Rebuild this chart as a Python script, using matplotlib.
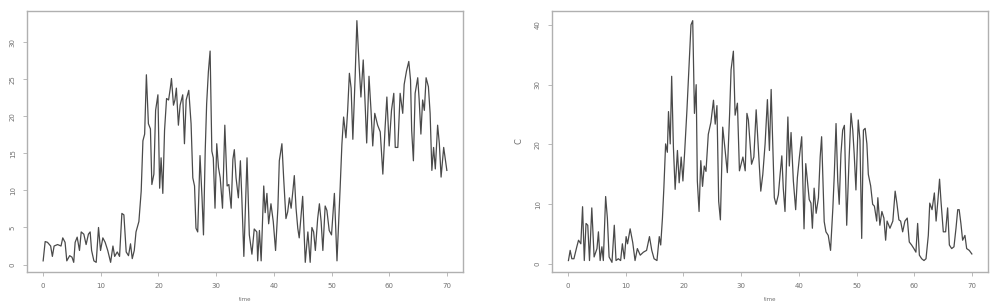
import matplotlib
matplotlib.use("Agg")
import matplotlib.pyplot as plt

# Left panel series (time, value)
time_a = [0, 0.35, 0.75, 1.3, 1.6, 1.9, 2.5, 3.1, 3.4, 3.8, 4.1, 4.6, 5.0, 5.3, 5.55, 5.9, 6.3, 6.6,
          7.05, 7.45, 7.85, 8.15, 8.4, 8.8, 9.2, 9.6, 9.95, 10.35, 10.75, 11.2, 11.7, 12.1, 12.4, 12.85,
          13.25, 13.65, 14.0, 14.4, 14.8, 15.15, 15.45, 15.8, 16.1, 16.6, 17.0, 17.3, 17.6, 17.9, 18.25,
          18.6, 18.85, 19.2, 19.5, 19.9, 20.2, 20.45, 20.75, 21.05, 21.4, 21.75, 22.05, 22.25, 22.6,
          22.85, 23.1, 23.45, 23.75, 24.2, 24.5, 24.8, 25.25, 25.65, 25.95, 26.25, 26.5, 26.8, 27.2,
          27.55, 27.8, 28.1, 28.35, 28.65, 28.95, 29.25, 29.5, 29.8, 30.1, 30.4, 30.7, 31.1, 31.5,
          31.9, 32.2, 32.6, 32.9, 33.15, 33.45, 33.85, 34.2, 34.45, 34.8, 35.35, 35.75, 36.2, 36.6,
          37.05, 37.2, 37.5, 37.8, 38.25, 38.5, 38.8, 39.1, 39.5, 39.9, 40.3, 40.7, 40.95, 41.4, 41.7,
          42.1, 42.4, 42.7, 43.0, 43.3, 43.55, 43.85, 44.15, 44.4, 45.0, 45.45, 45.9, 46.3, 46.6, 46.9,
          47.2, 47.6, 47.9, 48.2, 48.5, 48.9, 49.2, 49.6, 50.0, 50.5, 50.95, 51.5, 51.8, 52.1, 52.5,
          52.8, 53.1, 53.4, 53.7, 54.1, 54.4, 54.8, 55.1, 55.5, 55.8, 56.1, 56.5, 56.85, 57.15, 57.5,
          58.0, 58.45, 58.9, 59.3, 59.6, 60.0, 60.4, 60.8, 61.05, 61.5, 61.9, 62.35, 62.6, 63.0, 63.4,
          63.7, 63.9, 64.2, 64.5, 64.95, 65.2, 65.5, 65.8, 66.1, 66.4, 66.8, 67.1, 67.4, 67.7, 68.0,
          68.4, 68.7, 69.0, 69.45, 69.7, 70.0]
value_a = [0.5, 3.1, 3.0, 2.5, 1.1, 2.5, 2.7, 2.5, 3.6, 3.0, 0.5, 1.2, 1.0, 0.3, 3.0, 3.7, 1.9, 4.4,
           4.1, 2.7, 4.1, 4.4, 1.9, 0.5, 0.3, 5.0, 1.9, 3.6, 3.0, 1.9, 0.3, 2.5, 1.1, 1.7,
           1.1, 6.9, 6.7, 1.7, 1.2, 2.8, 0.8, 1.9, 4.4, 5.8, 9.9, 16.7, 17.6, 25.6, 19.0,
           18.3, 10.8, 12.2, 20.8, 22.9, 10.3, 14.4, 9.6, 18.1, 22.4, 22.2, 23.8, 25.1, 21.5,
           22.2, 23.8, 18.8, 21.5, 22.9, 16.3, 22.2, 23.5, 19.0, 11.7, 10.6, 4.9, 4.4, 14.7,
           9.0, 4.0, 15.3, 21.7, 26.0, 28.8, 15.3, 14.4, 7.6, 16.3, 13.1, 11.7, 7.6, 18.8,
           10.6, 10.8, 7.6, 14.2, 15.5, 11.7, 9.0, 14.0, 9.0, 1.1, 14.4, 4.0, 1.4, 4.8,
           4.4, 0.5, 4.6, 0.5, 10.6, 7.0, 9.6, 5.5, 8.2, 5.8, 1.9, 7.6, 14.0, 16.3, 11.7,
           6.2, 7.1, 9.0, 7.6, 9.9, 12.0, 7.6, 4.9, 3.6, 9.2, 0.3, 4.4, 0.3, 5.0, 4.4,
           1.9, 6.2, 8.2, 5.8, 1.9, 7.9, 7.3, 4.6, 4.0, 9.6, 0.5, 10.4, 16.2, 19.9, 17.1,
           20.8, 25.8, 23.8, 16.9, 25.4, 32.9, 26.7, 22.6, 27.6, 22.2, 16.4, 25.4, 20.8, 16.0, 20.4,
           18.8, 17.9, 12.2, 18.6, 22.6, 16.0, 20.8, 23.1, 15.8, 15.8, 23.1, 20.4, 24.3, 26.1, 27.4,
           24.9, 18.1, 14.0, 23.1, 25.2, 22.2, 17.6, 22.2, 20.8, 25.2, 24.0, 20.4, 12.7, 15.8, 12.9,
           18.8, 16.3, 11.8, 15.8, 14.4, 12.7]

# Right panel series (time, C)
time_c = [0.05, 0.35, 0.64, 1.0, 1.5, 1.8, 2.2, 2.5, 2.8, 3.1, 3.4, 3.7, 4.1, 4.5, 5.0, 5.25, 5.55,
          5.85, 6.1, 6.5, 6.8, 7.1, 7.6, 8.0, 8.3, 8.7, 9.1, 9.4, 9.75, 10.05, 10.3, 10.75, 11.2,
          11.6, 12.0, 12.5, 13.05, 13.6, 14.1, 14.5, 14.9, 15.4, 15.8, 16.05, 16.35, 16.6, 16.9,
          17.2, 17.4, 17.7, 17.95, 18.25, 18.55, 18.95, 19.25, 19.6, 19.9, 20.2, 20.6, 21.0, 21.3,
          21.6, 21.9, 22.2, 22.4, 22.7, 23.0, 23.3, 23.6, 23.9, 24.3, 24.75, 25.2, 25.5, 25.8, 26.1,
          26.4, 26.8, 27.2, 27.6, 28.0, 28.25, 28.65, 28.95, 29.35, 29.7, 30.3, 30.7, 31.0, 31.25,
          31.5, 31.8, 32.2, 32.6, 33.0, 33.4, 33.75, 34.15, 34.55, 34.9, 35.2, 35.5, 35.75, 36.05,
          36.45, 36.75, 37.05, 37.3, 37.6, 38.1, 38.35, 38.65, 39.05, 39.45, 39.75, 40.1, 40.5,
          40.9, 41.2, 41.55, 41.8, 42.1, 42.35, 42.65, 43.0, 43.4, 43.7, 43.95, 44.4, 44.7, 45.1,
          45.5, 45.9, 46.15, 46.45, 46.75, 47.0, 47.3, 47.6, 47.9, 48.3, 48.7, 49.05, 49.35, 49.6,
          49.9, 50.3, 50.6, 50.9, 51.2, 51.5, 51.8, 52.05, 52.45, 52.8, 53.1, 53.5, 53.7, 54.05,
          54.4, 54.75, 55.05, 55.3, 55.8, 56.3, 56.7, 57.0, 57.35, 57.65, 58.0, 58.4, 58.8, 59.15,
          59.55, 59.95, 60.3, 60.6, 60.9, 61.3, 61.7, 62.05, 62.45, 62.7, 63.1, 63.5, 63.8, 64.1,
          64.4, 64.65, 65.05, 65.45, 65.8, 66.1, 66.5, 66.9, 67.25, 67.55, 67.8, 68.1, 68.4, 68.8,
          69.1, 69.55, 70.0]
value_c = [0.6, 2.3, 0.9, 0.9, 2.9, 4.0, 3.4, 9.6, 0.6, 6.8, 6.5, 0.6, 9.4, 1.2, 2.6, 5.4, 0.6,
           2.9, 0.6, 11.3, 7.7, 1.2, 0.3, 6.5, 0.6, 0.9, 0.6, 3.4, 0.9, 4.6, 3.4, 5.9, 3.6,
           0.6, 2.6, 1.5, 2.0, 2.3, 4.6, 2.3, 0.9, 0.6, 4.6, 3.2, 7.7, 12.8, 20.1,
           18.7, 25.5, 20.1, 31.4, 19.6, 12.5, 19.0, 13.6, 17.9, 13.9, 18.7, 25.8, 34.0, 40.0,
           40.7, 25.2, 30.0, 13.9, 8.8, 17.3, 13.0, 16.4, 15.5, 21.7, 23.7, 27.4, 23.4, 26.5, 10.5,
           7.4, 22.9, 19.2, 15.3, 25.2, 32.5, 35.6, 24.9, 26.9, 15.6, 17.9, 15.6, 25.2, 24.1,
           20.7, 16.7, 17.9, 25.8, 19.0, 12.2, 15.0, 20.1, 27.5, 19.0, 29.2, 19.0, 11.1, 10.0,
           11.6, 15.0, 18.1, 12.7, 8.8, 24.6, 16.4, 22.0, 13.9, 9.1, 14.5, 17.9, 21.3,
           5.9, 16.8, 13.4, 10.8, 10.2, 6.0, 12.7, 8.5, 11.1, 17.9, 21.3, 7.1, 5.4, 4.8,
           2.3, 9.4, 15.0, 23.5, 13.9, 10.0, 18.4, 22.4, 23.2, 6.5, 17.3, 25.2, 22.4, 18.4,
           12.4, 24.1, 20.7, 4.3, 22.4, 22.7, 20.1, 15.0, 13.1, 10.0, 9.7, 7.2, 11.1, 6.5,
           8.8, 7.7, 4.0, 7.2, 6.0, 7.2, 12.2, 10.2, 7.4, 7.2, 5.4, 7.2, 7.7, 3.7,
           3.2, 2.6, 2.0, 6.8, 1.5, 0.9, 0.6, 0.9, 4.8, 10.2, 9.1, 11.9, 7.2, 10.5,
           14.2, 10.5, 5.4, 5.4, 9.4, 3.2, 2.6, 2.9, 6.0, 9.1, 9.1, 6.8, 4.0, 4.8,
           2.6, 2.3, 1.7]

x_ticks = [0, 10, 20, 30, 40, 50, 60, 70]
y_ticks_a = [0, 5, 10, 15, 20, 25, 30]
y_ticks_c = [0, 10, 20, 30, 40]

line_col = "#4a4a4a"
frame_col = "#b0b0b0"
text_col = "#707070"

fig = plt.figure(figsize=(9.94, 3.04), dpi=100)
ax1 = fig.add_axes([27 / 994, 32 / 304, 436 / 994, 261 / 304])
ax2 = fig.add_axes([552 / 994, 32 / 304, 436 / 994, 261 / 304])


def style(ax, t, v, yticks, ylabel=None):
    ax.plot(t, v, color=line_col, lw=0.9, solid_joinstyle="round")
    vmin, vmax = min(v), max(v)
    pad = 0.04 * (vmax - vmin)
    ax.set_ylim(vmin - pad, vmax + pad)
    ax.set_xlim(-2.8, 72.8)
    ax.set_xticks(x_ticks)
    ax.set_yticks(yticks)
    ax.set_xticklabels([str(x) for x in x_ticks], fontsize=5, color=text_col)
    ax.set_yticklabels([str(y) for y in yticks], fontsize=5, color=text_col,
                       rotation=90, va="center")
    ax.tick_params(axis="both", length=3, width=0.6, color=frame_col, pad=5)
    for s in ax.spines.values():
        s.set_color(frame_col)
        s.set_linewidth(1.0)
    ax.set_xlabel("time", fontsize=4, color=text_col, labelpad=6)
    if ylabel:
        ax.set_ylabel(ylabel, fontsize=6, color=text_col, labelpad=8)


style(ax1, time_a, value_a, y_ticks_a)
style(ax2, time_c, value_c, y_ticks_c, ylabel="C")

fig.savefig("out.png", dpi=100)
